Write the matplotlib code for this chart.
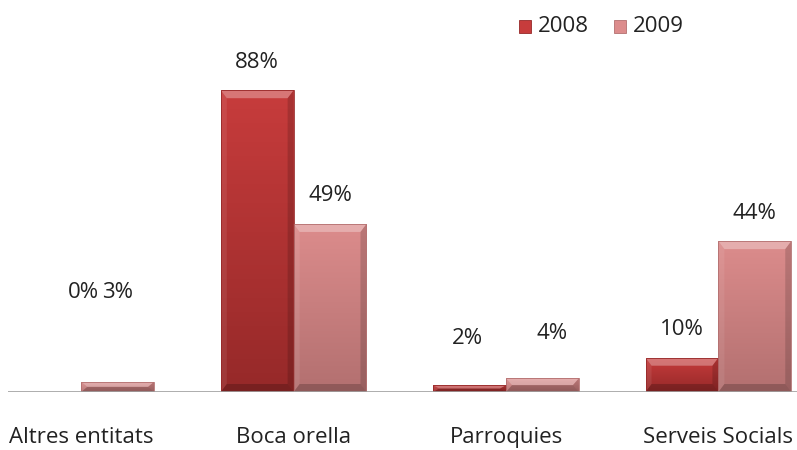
import numpy as np
import matplotlib.pyplot as plt
from matplotlib.patches import Polygon, Rectangle
from matplotlib.colors import LinearSegmentedColormap

plt.rcParams['font.family'] = ['Open Sans', 'DejaVu Sans']

categories = ['Altres entitats', 'Boca orella', 'Parroquies', 'Serveis Socials']
series_names = ['2008', '2009']
vals_2008 = [0, 88, 2, 10]
vals_2009 = [3, 49, 4, 44]
labels_2008 = ['0%', '88%', '2%', '10%']
labels_2009 = ['3%', '49%', '4%', '44%']

# label offsets in pixels (dx, dy above bar top), as Excel placed them
offs_2008 = [(39, 99), (0, 28), (-2, 47), (0, 28)]
offs_2009 = [(0, 89), (0, 28), (10, 45), (0, 28)]

top_cols = ['#c73c3c', '#dc8c8c']
bot_cols = ['#962929', '#b37070']

fig = plt.figure(figsize=(7.97, 4.5), dpi=100)
ax = fig.add_axes([0.01, 1 - 392 / 450, 0.99, 392 / 450])
ax.set_xlim(-0.345, 3.37)
ax.set_ylim(0, 114.3)

px_x = 0.99 * 797 / (3.37 + 0.345)   # pixels per x unit
px_y = 392 / 114.3                    # pixels per y unit

w = 0.343
x = np.arange(len(categories))


def bevel_bar(xc, h, i):
    if h <= 0:
        return
    x0, x1 = xc - w / 2, xc + w / 2
    cmap = LinearSegmentedColormap.from_list('g', [bot_cols[i], top_cols[i]])
    grad = np.linspace(0, 1, 64).reshape(-1, 1)
    im = ax.imshow(grad, cmap=cmap, aspect='auto', origin='lower',
                   extent=[x0, x1, 0, h], zorder=2)
    rect = Rectangle((x0, 0), w, h, facecolor='none', edgecolor='none')
    ax.add_patch(rect)
    im.set_clip_path(rect)
    bx = 6 / px_x
    by = min(8 / px_y, h / 2)
    sx = min(bx, w / 2)
    lb = min(by, h / 2)
    # top bevel (light)
    ax.add_patch(Polygon([(x0, h), (x1, h), (x1 - sx, h - by), (x0 + sx, h - by)],
                         closed=True, facecolor='white', alpha=0.3, lw=0, zorder=3))
    # left side (slightly light)
    ax.add_patch(Polygon([(x0, 0), (x0, h), (x0 + sx, h - by), (x0 + sx, lb)],
                         closed=True, facecolor='white', alpha=0.08, lw=0, zorder=3))
    # right side (dark)
    ax.add_patch(Polygon([(x1, 0), (x1, h), (x1 - sx, h - by), (x1 - sx, lb)],
                         closed=True, facecolor='black', alpha=0.15, lw=0, zorder=3))
    # bottom (dark)
    ax.add_patch(Polygon([(x0, 0), (x1, 0), (x1 - sx, lb), (x0 + sx, lb)],
                         closed=True, facecolor='black', alpha=0.2, lw=0, zorder=3))
    ax.add_patch(Rectangle((x0, 0), w, h, facecolor='none', edgecolor=bot_cols[i],
                           lw=0.6, zorder=4))


for j, (v8, v9) in enumerate(zip(vals_2008, vals_2009)):
    bevel_bar(x[j] - w / 2, v8, 0)
    bevel_bar(x[j] + w / 2, v9, 1)
    for xc, v, lab, (dx, dy) in [(x[j] - w / 2, v8, labels_2008[j], offs_2008[j]),
                                 (x[j] + w / 2, v9, labels_2009[j], offs_2009[j])]:
        ax.annotate(lab, (xc, v), xytext=(dx * 0.72, dy * 0.72), textcoords='offset points',
                    ha='center', va='center', fontsize=16, color='#222222')

ax.axhline(0, color='#a0a0a0', lw=1.2, zorder=5)
for s in ax.spines.values():
    s.set_visible(False)
ax.set_yticks([])
ax.set_xticks(x)
ax.set_xticklabels(categories, fontsize=16, color='#222222')
ax.tick_params(axis='x', length=0, pad=25)

# legend
for i, name in enumerate(series_names):
    lx = 519 + i * 95
    fig.patches.append(Rectangle((lx / 797, 1 - 33 / 450), 12 / 797, 13 / 450,
                                 transform=fig.transFigure, facecolor=top_cols[i],
                                 edgecolor=bot_cols[i], lw=0.6))
    fig.text((lx + 19) / 797, 1 - 26 / 450, name, fontsize=16, va='center',
             ha='left', color='#222222')

fig.savefig('out.png', dpi=100)
